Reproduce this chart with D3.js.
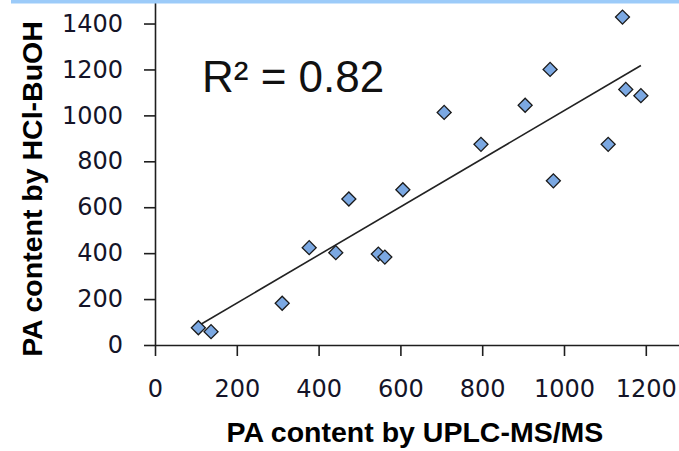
<!DOCTYPE html>
<html>
<head>
<meta charset="utf-8">
<script src="https://cdn.jsdelivr.net/npm/d3@7.9.0/dist/d3.min.js"></script>
<style>
  html, body { margin: 0; padding: 0; background: #fff; }
  svg { display: block; }
  .tick text { font-family: "DejaVu Sans", sans-serif; font-size: 24px; fill: #141428; }
  .axis-title { font-family: "Liberation Sans", Arial, sans-serif; font-weight: bold; font-size: 28.5px; fill: #000; }
</style>
</head>
<body>
<div id="chart"></div>
<script>
// PA content by UPLC-MS/MS (x) vs. by HCl-BuOH (y)
const uplc  = [106, 137, 311, 377, 474, 442, 546, 562, 606, 707, 797, 905, 966, 974, 1143, 1151, 1188, 1108];
const hclBu = [75,  58,  182, 424, 636, 402, 396, 383, 676, 1013, 874, 1044, 1200, 715, 1428, 1113, 1086, 874];

// trendline end points as drawn in the picture
const trendX = [106, 1188];
const trendY = [84, 1217];

const xTicks = [0, 200, 400, 600, 800, 1000, 1200];
const yTicks = [0, 200, 400, 600, 800, 1000, 1200, 1400];
const r2Label = 'R² = 0.82';

const width = 679;
const height = 451;

const points = uplc.map((x, i) => ({ x, y: hclBu[i] }));

const svg = d3.select('#chart')
  .append('svg')
  .attr('width', width)
  .attr('height', height);

const xScale = d3.scaleLinear().domain([0, 1400]).range([155, 727.6]);
const yScale = d3.scaleLinear().domain([0, 1600]).range([345, -22.4]);

// X axis
svg.append('g')
  .attr('transform', `translate(0, ${yScale(0)})`)
  .call(d3.axisBottom(xScale).tickValues(xTicks).tickFormat(d => String(d))
    .tickSize(11).tickSizeOuter(0).tickPadding(24));

// Y axis
svg.append('g')
  .attr('transform', `translate(${xScale(0)}, 0)`)
  .call(d3.axisLeft(yScale).tickValues(yTicks).tickFormat(d => String(d))
    .tickSize(11).tickSizeOuter(0).tickPadding(21));

svg.selectAll('.domain, .tick line')
  .attr('stroke', '#1e1e1e')
  .attr('stroke-width', 1.6);
svg.selectAll('.tick text').attr('font-size', null).attr('font-family', null).attr('fill', null);

// trendline
svg.append('line')
  .attr('x1', xScale(trendX[0]))
  .attr('y1', yScale(trendY[0]))
  .attr('x2', xScale(trendX[1]))
  .attr('y2', yScale(trendY[1]))
  .attr('stroke', '#222')
  .attr('stroke-width', 1.6);

// diamonds
const diamond = d3.symbol().type(d3.symbolSquare).size(98);
svg.append('g')
  .selectAll('path')
  .data(points)
  .join('path')
  .attr('d', diamond)
  .attr('transform', d => `translate(${xScale(d.x)}, ${yScale(d.y)}) rotate(45)`)
  .attr('fill', '#7ba8e2')
  .attr('stroke', '#1a1a1a')
  .attr('stroke-width', 1.3);

// R² label
svg.append('text')
  .attr('x', 202)
  .attr('y', 91.5)
  .attr('font-family', '"Liberation Sans", Arial, sans-serif')
  .attr('font-size', 44)
  .attr('fill', '#111')
  .text(r2Label);

// axis titles
svg.append('text')
  .attr('class', 'axis-title')
  .attr('x', 226.5)
  .attr('y', 442)
  .text('PA content by UPLC-MS/MS');

svg.append('text')
  .attr('class', 'axis-title')
  .attr('transform', 'translate(42, 189) rotate(-90)')
  .attr('text-anchor', 'middle')
  .text('PA content by HCl-BuOH');

// light blue band along the top edge
svg.append('rect')
  .attr('x', 11)
  .attr('y', 0)
  .attr('width', width - 11)
  .attr('height', 3.5)
  .attr('fill', '#9ccbf9');
</script>
</body>
</html>
